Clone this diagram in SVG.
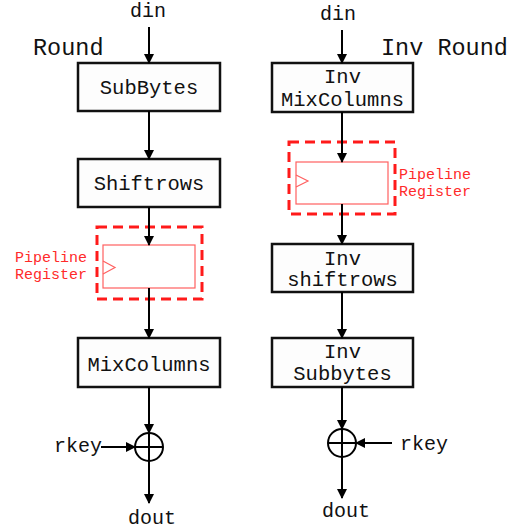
<svg xmlns="http://www.w3.org/2000/svg" width="520" height="529" viewBox="0 0 520 529">
  <defs>
    <marker id="arrow" markerWidth="10" markerHeight="10" refX="9" refY="5" orient="auto" markerUnits="userSpaceOnUse" viewBox="0 0 10 10">
      <path d="M0,0 L10,5 L0,10 z" fill="#000"/>
    </marker>
    <style>
      text { font-family: "Liberation Mono", "Courier New", monospace; fill: #111; }
      .lbl { font-size: 20.5px; text-anchor: middle; }
      .title { font-size: 23.5px; }
      .io { font-size: 20px; }
      .pipe { font-size: 15px; fill: #ff2a2a; }
      .box { fill: #fdfdfd; stroke: #111; stroke-width: 2.5; }
      .dash { fill: none; stroke: #ff1a1a; stroke-width: 3; stroke-dasharray: 10 6; }
      .reg { fill: #fff; stroke: #ff6060; stroke-width: 1.2; }
      .wire { fill: none; stroke: #000; stroke-width: 2; }
      .xor { fill: #fff; stroke: #000; stroke-width: 2; }
    </style>
  </defs>
  <rect width="520" height="529" fill="#fff"/>

  <!-- titles and io labels -->
  <text class="title" x="33" y="55">Round</text>
  <text class="title" x="381" y="55">Inv Round</text>
  <text class="io" x="130" y="17">din</text>
  <text class="io" x="320" y="20">din</text>
  <text class="io" x="54" y="452">rkey</text>
  <text class="io" x="400" y="450">rkey</text>
  <text class="io" x="128" y="524">dout</text>
  <text class="io" x="322" y="517">dout</text>

  <!-- forward round -->
  <g id="subbytes">
    <rect class="box" x="78" y="63" width="142" height="48"/>
    <text class="lbl" x="149" y="94">SubBytes</text>
  </g>
  <g id="shiftrows">
    <rect class="box" x="78" y="159" width="142" height="48"/>
    <text class="lbl" x="149" y="190">Shiftrows</text>
  </g>
  <g id="pipeline-left">
    <rect class="dash" x="97" y="227" width="105" height="72"/>
    <rect class="reg" x="103" y="245" width="92" height="43"/>
    <path d="M103,261 L115,267.5 L103,274" fill="none" stroke="#ff6060" stroke-width="1.2"/>
    <text class="pipe" x="15" y="262">Pipeline</text>
    <text class="pipe" x="15" y="279">Register</text>
  </g>
  <g id="mixcolumns">
    <rect class="box" x="78" y="338" width="142" height="49"/>
    <text class="lbl" x="149" y="371">MixColumns</text>
  </g>
  <g id="xor-left">
    <circle class="xor" cx="149" cy="447" r="14"/>
    <path class="wire" d="M135,447 H163 M149,433 V461"/>
  </g>

  <!-- inverse round -->
  <g id="inv-mixcolumns">
    <rect class="box" x="272" y="63" width="141" height="49"/>
    <text class="lbl" x="342.5" y="83">Inv</text>
    <text class="lbl" x="342.5" y="106">MixColumns</text>
  </g>
  <g id="pipeline-right">
    <rect class="dash" x="289" y="142" width="106" height="72"/>
    <rect class="reg" x="296" y="162" width="92" height="42"/>
    <path d="M296,175 L308,181 L296,187" fill="none" stroke="#ff6060" stroke-width="1.2"/>
    <text class="pipe" x="399" y="179">Pipeline</text>
    <text class="pipe" x="399" y="196">Register</text>
  </g>
  <g id="inv-shiftrows">
    <rect class="box" x="272" y="244" width="141" height="48"/>
    <text class="lbl" x="342.5" y="265">Inv</text>
    <text class="lbl" x="342.5" y="286">shiftrows</text>
  </g>
  <g id="inv-subbytes">
    <rect class="box" x="272" y="338" width="141" height="49"/>
    <text class="lbl" x="342.5" y="358">Inv</text>
    <text class="lbl" x="342.5" y="380">Subbytes</text>
  </g>
  <g id="xor-right">
    <circle class="xor" cx="342" cy="443" r="14"/>
    <path class="wire" d="M328,443 H356 M342,429 V457"/>
  </g>

  <!-- connectors -->
  <g id="connectors" class="wire">
    <line x1="149" y1="27" x2="149" y2="63" marker-end="url(#arrow)"/>
    <line x1="149" y1="111" x2="149" y2="159" marker-end="url(#arrow)"/>
    <line x1="149" y1="207" x2="149" y2="245" marker-end="url(#arrow)"/>
    <line x1="149" y1="288" x2="149" y2="338" marker-end="url(#arrow)"/>
    <line x1="149" y1="387" x2="149" y2="433" marker-end="url(#arrow)"/>
    <line x1="101" y1="447" x2="135" y2="447" marker-end="url(#arrow)"/>
    <line x1="149" y1="461" x2="149" y2="503" marker-end="url(#arrow)"/>

    <line x1="342" y1="30" x2="342" y2="63" marker-end="url(#arrow)"/>
    <line x1="342" y1="112" x2="342" y2="162" marker-end="url(#arrow)"/>
    <line x1="342" y1="204" x2="342" y2="244" marker-end="url(#arrow)"/>
    <line x1="342" y1="292" x2="342" y2="338" marker-end="url(#arrow)"/>
    <line x1="342" y1="387" x2="342" y2="429" marker-end="url(#arrow)"/>
    <line x1="392" y1="443" x2="356" y2="443" marker-end="url(#arrow)"/>
    <line x1="342" y1="457" x2="342" y2="498" marker-end="url(#arrow)"/>
  </g>
</svg>
